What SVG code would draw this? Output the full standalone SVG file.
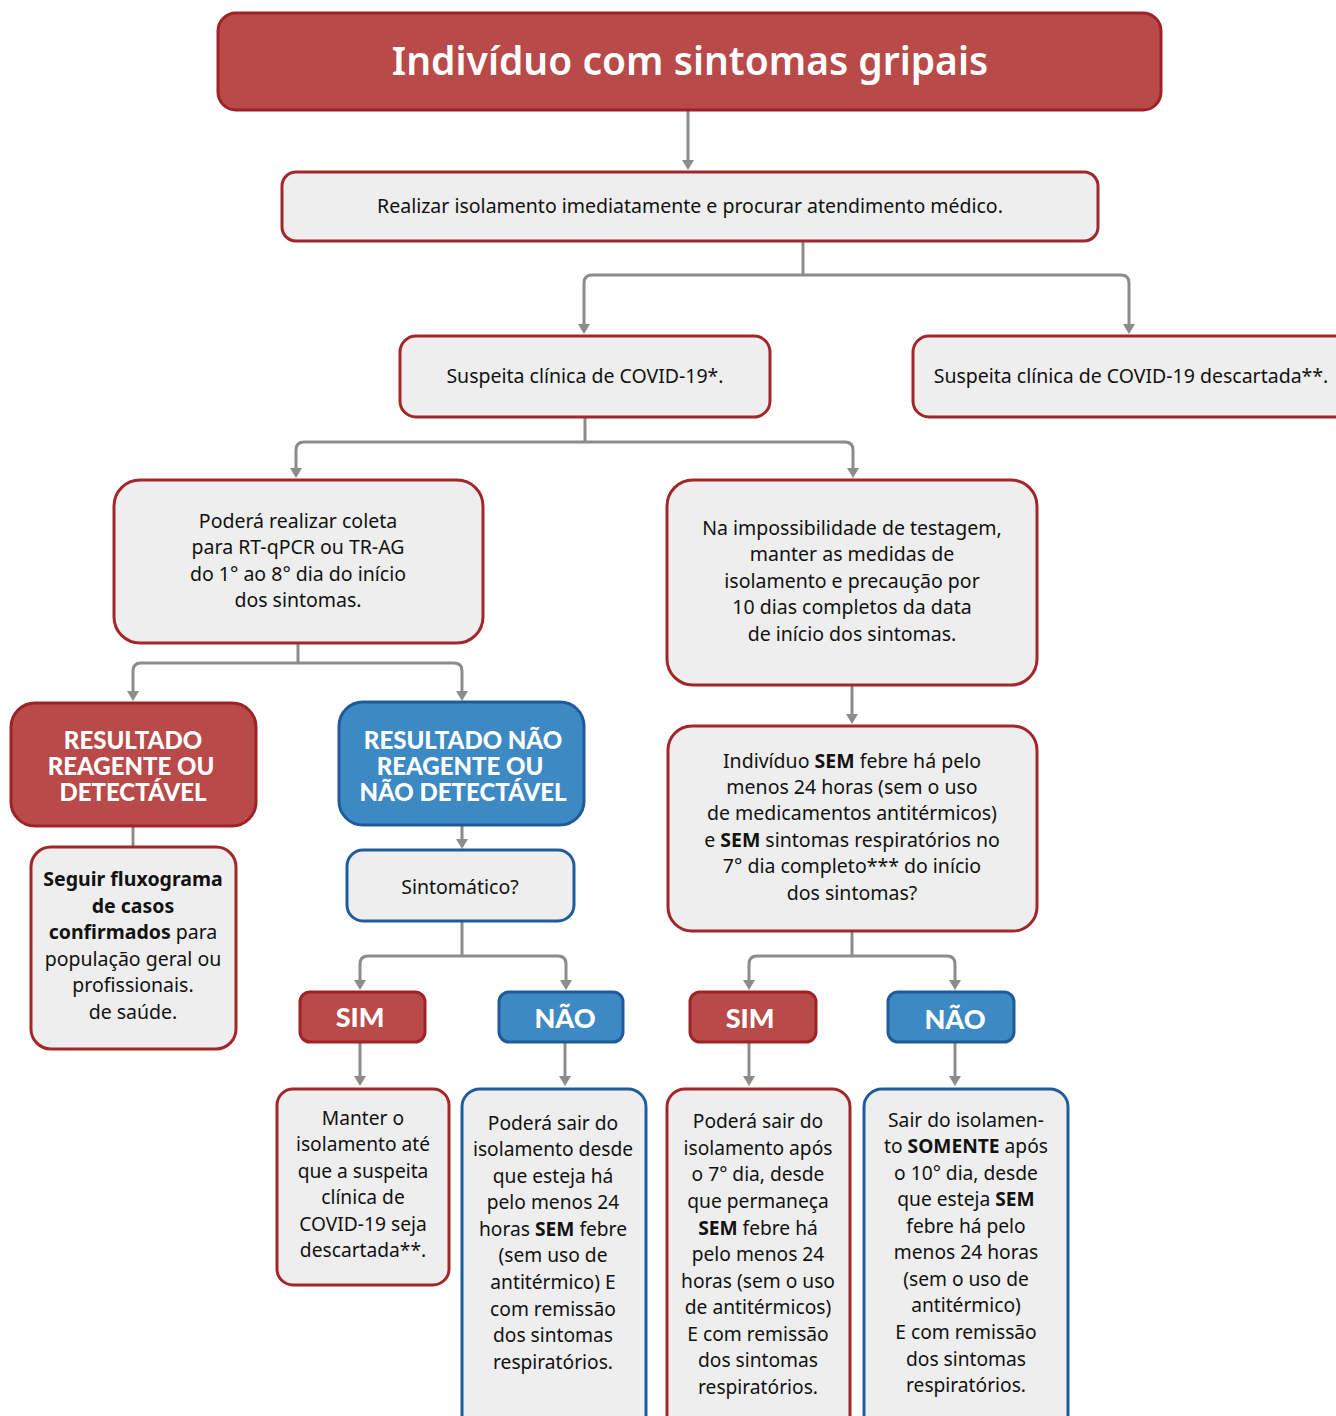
<svg xmlns="http://www.w3.org/2000/svg" width="1336" height="1416" viewBox="0 0 1336 1416">
<style>
.red{fill:#B84A4A;stroke:#9E2326;stroke-width:3}
.blue{fill:#3D89C3;stroke:#1E5A9C;stroke-width:3}
.lr{fill:#EEEEEE;stroke:#A3262A;stroke-width:3}
.lb{fill:#EEEEEE;stroke:#1F5C9E;stroke-width:3}
.t{font-family:"Noto Sans","Open Sans",sans-serif;font-size:19.5px;fill:#111;text-anchor:middle}
.tb{font-size:19.2px}
.b{font-weight:700}
.h{font-family:Lato,"Noto Sans",sans-serif;font-weight:900;fill:#fff;text-anchor:middle;font-size:24px}
.c{fill:none;stroke:#8C8C8C;stroke-width:3;stroke-linejoin:round}
.ah{fill:#8C8C8C}
</style>
<rect width="1336" height="1416" fill="#fff"/>
<g id="connectors">
<path class="c" d="M688,111 V160"/>
<path class="ah" d="M682,160 L694,160 L688,170 Z"/>
<path class="c" d="M803,242 V275 H592 Q584,275 584,283 V324"/>
<path class="ah" d="M578,324 L590,324 L584,334 Z"/>
<path class="c" d="M803,275 H1121 Q1129,275 1129,283 V324"/>
<path class="ah" d="M1123,324 L1135,324 L1129,334 Z"/>
<path class="c" d="M585,418 V442 H304 Q296,442 296,450 V468"/>
<path class="ah" d="M290,468 L302,468 L296,478 Z"/>
<path class="c" d="M585,442 H845 Q853,442 853,450 V468"/>
<path class="ah" d="M847,468 L859,468 L853,478 Z"/>
<path class="c" d="M298,644 V663 H141 Q133,663 133,671 V691"/>
<path class="ah" d="M127,691 L139,691 L133,701 Z"/>
<path class="c" d="M298,663 H454 Q462,663 462,671 V691"/>
<path class="ah" d="M456,691 L468,691 L462,701 Z"/>
<path class="c" d="M133,827 V848"/>
<path class="c" d="M462,826 V839"/>
<path class="ah" d="M456,839 L468,839 L462,849 Z"/>
<path class="c" d="M462,922 V956 H368 Q360,956 360,964 V980"/>
<path class="ah" d="M354,980 L366,980 L360,990 Z"/>
<path class="c" d="M462,956 H558 Q566,956 566,964 V980"/>
<path class="ah" d="M560,980 L572,980 L566,990 Z"/>
<path class="c" d="M360,1043 V1076"/>
<path class="ah" d="M354,1076 L366,1076 L360,1086 Z"/>
<path class="c" d="M565,1043 V1076"/>
<path class="ah" d="M559,1076 L571,1076 L565,1086 Z"/>
<path class="c" d="M852,686 V714"/>
<path class="ah" d="M846,714 L858,714 L852,724 Z"/>
<path class="c" d="M852,932 V956 H757 Q749,956 749,964 V980"/>
<path class="ah" d="M743,980 L755,980 L749,990 Z"/>
<path class="c" d="M852,956 H947 Q955,956 955,964 V980"/>
<path class="ah" d="M949,980 L961,980 L955,990 Z"/>
<path class="c" d="M749,1043 V1076"/>
<path class="ah" d="M743,1076 L755,1076 L749,1086 Z"/>
<path class="c" d="M955,1043 V1076"/>
<path class="ah" d="M949,1076 L961,1076 L955,1086 Z"/>
</g>
<g id="n-title">
<rect class="red" x="218" y="13" width="943" height="97" rx="18"/>
<text x="690" y="75" style="font-family:'Noto Sans','Open Sans',sans-serif;font-weight:600;font-size:39px;fill:#fff;text-anchor:middle">Indivíduo com sintomas gripais</text>
</g>
<g id="n-isolamento">
<rect class="lr" x="282" y="172" width="816" height="69" rx="14"/>
<text class="t" x="690" y="213">Realizar isolamento imediatamente e procurar atendimento médico.</text>
</g>
<g id="n-suspeita">
<rect class="lr" x="400" y="336" width="370" height="81" rx="16"/>
<text class="t" x="585" y="383">Suspeita clínica de COVID-19*.</text>
</g>
<g id="n-descartada">
<rect class="lr" x="913" y="336" width="440" height="81" rx="16"/>
<text class="t" x="1131" y="383">Suspeita clínica de COVID-19 descartada**.</text>
</g>
<g id="n-coleta">
<rect class="lr" x="114" y="480" width="369" height="163" rx="26"/>
<text class="t" x="298" y="528">Poderá realizar coleta</text>
<text class="t" x="298" y="554">para RT-qPCR ou TR-AG</text>
<text class="t" x="298" y="581">do 1° ao 8° dia do início</text>
<text class="t" x="298" y="607">dos sintomas.</text>
</g>
<g id="n-impossibilidade">
<rect class="lr" x="667" y="480" width="370" height="205" rx="26"/>
<text class="t" x="852" y="535">Na impossibilidade de testagem,</text>
<text class="t" x="852" y="561">manter as medidas de</text>
<text class="t" x="852" y="588">isolamento e precaução por</text>
<text class="t" x="852" y="614">10 dias completos da data</text>
<text class="t" x="852" y="641">de início dos sintomas.</text>
</g>
<g id="n-reagente">
<rect class="red" x="11" y="703" width="245" height="123" rx="24"/>
<text class="h"><tspan x="133" y="749">RESULTADO</tspan><tspan x="131" y="775">REAGENTE OU</tspan><tspan x="133" y="801">DETECTÁVEL</tspan></text>
</g>
<g id="n-naoreagente">
<rect class="blue" x="339" y="702" width="245" height="123" rx="24"/>
<text class="h"><tspan x="463" y="749">RESULTADO NÃO</tspan><tspan x="460" y="775">REAGENTE OU</tspan><tspan x="463" y="801">NÃO DETECTÁVEL</tspan></text>
</g>
<g id="n-seguir">
<rect class="lr" x="31" y="847" width="205" height="202" rx="20"/>
<text class="t" x="133" y="886"><tspan class="b">Seguir fluxograma</tspan></text>
<text class="t" x="133" y="913"><tspan class="b">de casos</tspan></text>
<text class="t" x="133" y="939"><tspan class="b">confirmados</tspan> para</text>
<text class="t" x="133" y="966">população geral ou</text>
<text class="t" x="133" y="992">profissionais.</text>
<text class="t" x="133" y="1019">de saúde.</text>
</g>
<g id="n-sintomatico">
<rect class="lb" x="347" y="850" width="227" height="71" rx="16"/>
<text class="t" x="460" y="894">Sintomático?</text>
</g>
<g id="n-sem-febre">
<rect class="lr" x="668" y="726" width="369" height="205" rx="24"/>
<text class="t" x="852" y="768">Indivíduo <tspan class="b">SEM</tspan> febre há pelo</text>
<text class="t" x="852" y="794">menos 24 horas (sem o uso</text>
<text class="t" x="852" y="820">de medicamentos antitérmicos)</text>
<text class="t" x="852" y="847">e <tspan class="b">SEM</tspan> sintomas respiratórios no</text>
<text class="t" x="852" y="873">7° dia completo*** do início</text>
<text class="t" x="852" y="900">dos sintomas?</text>
</g>
<g id="n-sim1">
<rect class="red" x="300" y="992" width="125" height="50" rx="10"/>
<text class="h" x="360" y="1027" style="font-size:27px">SIM</text>
</g>
<g id="n-nao1">
<rect class="blue" x="499" y="992" width="124" height="50" rx="10"/>
<text class="h" x="565" y="1028" style="font-size:27px">NÃO</text>
</g>
<g id="n-sim2">
<rect class="red" x="690" y="992" width="126" height="50" rx="10"/>
<text class="h" x="750" y="1028" style="font-size:27px">SIM</text>
</g>
<g id="n-nao2">
<rect class="blue" x="888" y="992" width="126" height="50" rx="10"/>
<text class="h" x="955" y="1029" style="font-size:27px">NÃO</text>
</g>
<g id="n-manter">
<rect class="lr" x="277" y="1089" width="172" height="196" rx="16"/>
<text class="t tb" x="363" y="1125">Manter o</text>
<text class="t tb" x="363" y="1151">isolamento até</text>
<text class="t tb" x="363" y="1178">que a suspeita</text>
<text class="t tb" x="363" y="1204">clínica de</text>
<text class="t tb" x="363" y="1231">COVID-19 seja</text>
<text class="t tb" x="363" y="1257">descartada**.</text>
</g>
<g id="n-podera1">
<rect class="lb" x="462" y="1089" width="184" height="345" rx="18"/>
<text class="t tb" x="553" y="1130">Poderá sair do</text>
<text class="t tb" x="553" y="1156">isolamento desde</text>
<text class="t tb" x="553" y="1183">que esteja há</text>
<text class="t tb" x="553" y="1209">pelo menos 24</text>
<text class="t tb" x="553" y="1236">horas <tspan class="b">SEM</tspan> febre</text>
<text class="t tb" x="553" y="1262">(sem uso de</text>
<text class="t tb" x="553" y="1289">antitérmico) E</text>
<text class="t tb" x="553" y="1316">com remissão</text>
<text class="t tb" x="553" y="1342">dos sintomas</text>
<text class="t tb" x="553" y="1369">respiratórios.</text>
</g>
<g id="n-podera2">
<rect class="lr" x="667" y="1089" width="183" height="345" rx="18"/>
<text class="t tb" x="758" y="1128">Poderá sair do</text>
<text class="t tb" x="758" y="1155">isolamento após</text>
<text class="t tb" x="758" y="1181">o 7° dia, desde</text>
<text class="t tb" x="758" y="1208">que permaneça</text>
<text class="t tb" x="758" y="1235"><tspan class="b">SEM</tspan> febre há</text>
<text class="t tb" x="758" y="1261">pelo menos 24</text>
<text class="t tb" x="758" y="1288">horas (sem o uso</text>
<text class="t tb" x="758" y="1314">de antitérmicos)</text>
<text class="t tb" x="758" y="1341">E com remissão</text>
<text class="t tb" x="758" y="1367">dos sintomas</text>
<text class="t tb" x="758" y="1394">respiratórios.</text>
</g>
<g id="n-sair">
<rect class="lb" x="864" y="1089" width="204" height="345" rx="18"/>
<text class="t tb" x="966" y="1127">Sair do isolamen-</text>
<text class="t tb" x="966" y="1153">to <tspan class="b">SOMENTE</tspan> após</text>
<text class="t tb" x="966" y="1180">o 10° dia, desde</text>
<text class="t tb" x="966" y="1206">que esteja <tspan class="b">SEM</tspan></text>
<text class="t tb" x="966" y="1233">febre há pelo</text>
<text class="t tb" x="966" y="1259">menos 24 horas</text>
<text class="t tb" x="966" y="1286">(sem o uso de</text>
<text class="t tb" x="966" y="1312">antitérmico)</text>
<text class="t tb" x="966" y="1339">E com remissão</text>
<text class="t tb" x="966" y="1366">dos sintomas</text>
<text class="t tb" x="966" y="1392">respiratórios.</text>
</g>
</svg>
